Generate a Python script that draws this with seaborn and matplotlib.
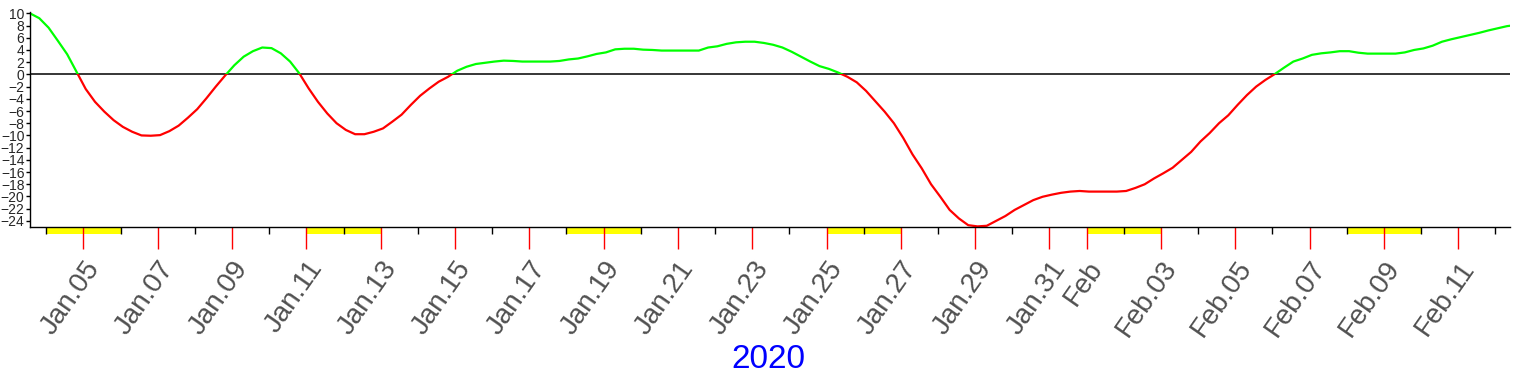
import matplotlib
matplotlib.use("Agg")
import matplotlib.pyplot as plt
import matplotlib.dates as mdates
import matplotlib.transforms as mtransforms
from matplotlib.patches import Rectangle
from matplotlib.ticker import FuncFormatter
import pandas as pd
import seaborn as sns

# series: one reading every 6 hours, starting Jan 03 13:30
start = "2020-01-03 13:30"
step = "6h"
values = [10.0, 9.2, 7.65, 5.5, 3.3, 0.45, -2.4, -4.5, -6.1, -7.5,
          -8.6, -9.4, -10.0, -10.05, -9.95, -9.3, -8.4, -7.1, -5.7, -3.9,
          -2.0, -0.2, 1.5, 2.9, 3.8, 4.4, 4.3, 3.45, 2.1, 0.15,
          -2.3, -4.5, -6.4, -8.0, -9.1, -9.8, -9.8, -9.4, -8.85, -7.75,
          -6.6, -5.0, -3.5, -2.3, -1.2, -0.4, 0.6, 1.25, 1.7, 1.9,
          2.1, 2.25, 2.2, 2.1, 2.1, 2.1, 2.1, 2.2, 2.45, 2.6,
          2.95, 3.35, 3.6, 4.1, 4.2, 4.2, 4.05, 4.0, 3.9, 3.9,
          3.9, 3.9, 3.9, 4.4, 4.6, 5.0, 5.25, 5.35, 5.35, 5.15,
          4.85, 4.4, 3.7, 2.9, 2.1, 1.35, 0.9, 0.3, -0.4, -1.3,
          -2.7, -4.4, -6.1, -8.0, -10.4, -13.1, -15.4, -18.0, -20.05, -22.2,
          -23.6, -24.7, -24.9, -24.8, -24.0, -23.2, -22.2, -21.4, -20.6, -20.05,
          -19.7, -19.4, -19.2, -19.1, -19.2, -19.2, -19.2, -19.2, -19.1, -18.6,
          -18.0, -17.05, -16.2, -15.3, -14.0, -12.7, -11.0, -9.6, -8.0, -6.7,
          -5.0, -3.4, -2.0, -0.9, 0.05, 1.1, 2.1, 2.6, 3.2, 3.45,
          3.6, 3.8, 3.8, 3.55, 3.4, 3.4, 3.4, 3.4, 3.6, 4.0,
          4.25, 4.7, 5.35, 5.75, 6.1, 6.45, 6.8, 7.2, 7.55, 7.9, 8.1]
x_end = "2020-02-12 09:15"
y_ticks = list(range(-24, 11, 2))
year_label = "2020"

dates = pd.date_range(start, periods=len(values), freq=step)
df = pd.DataFrame({"date": dates, "value": values})

sns.set_theme(style="ticks")
plt.rcParams["font.family"] = ["Liberation Sans", "DejaVu Sans"]

fig = plt.figure(figsize=(15.16, 3.74), dpi=100)
ax = fig.add_axes([30 / 1516, 1 - 227 / 374, (1509.7 - 30) / 1516, 215.5 / 374])

# same line twice, green clipped above zero and red below
blend = mtransforms.blended_transform_factory(ax.transAxes, ax.transData)
sns.lineplot(data=df, x="date", y="value", color="#00ff00", lw=1.6, ax=ax)
up = Rectangle((0, 0), 1, 100, transform=blend)
ax.lines[-1].set_clip_path(up)
sns.lineplot(data=df, x="date", y="value", color="#ff0000", lw=1.6, ax=ax)
down = Rectangle((0, -100), 1, 100, transform=blend)
ax.lines[-1].set_clip_path(down)

ax.axhline(0, color="black", lw=1.1, zorder=1)

ax.set_xlim(dates[0], pd.Timestamp(x_end))
ax.set_ylim(-25.0, 10.3)

# weekend markers under the axis
day = dates[0].normalize()
while day < pd.Timestamp(x_end):
    if day.weekday() == 5:
        ax.axvspan(day, day + pd.Timedelta(days=2), ymin=-7 / 215.5, ymax=0,
                   color="#ffff00", clip_on=False, zorder=0, lw=0)
    day += pd.Timedelta(days=1)

ax.xaxis.set_major_locator(mdates.DayLocator(bymonthday=range(1, 32, 2)))
ax.xaxis.set_minor_locator(mdates.DayLocator(bymonthday=range(2, 31, 2)))


def fmt(x, pos):
    d = mdates.num2date(x)
    if d.day == 1:
        return d.strftime("%b")
    return d.strftime("%b.%d")


ax.xaxis.set_major_formatter(FuncFormatter(fmt))
ax.tick_params(axis="x", which="major", color="red", length=16, width=1,
               labelsize=20, labelcolor="#505050", pad=4)
ax.tick_params(axis="x", which="minor", color="black", length=5, width=1)
for lab in ax.get_xticklabels():
    lab.set_rotation(55)
    lab.set_ha("right")
    lab.set_va("center")
    lab.set_rotation_mode("anchor")
    lab.set_transform(lab.get_transform() + mtransforms.ScaledTranslation(11 / 100, -9 / 100, fig.dpi_scale_trans))

ax.set_yticks(y_ticks)
ax.tick_params(axis="y", length=3, width=1, color="black", labelsize=10, pad=1)

for side in ["top", "right"]:
    ax.spines[side].set_visible(False)
for side in ["left", "bottom"]:
    ax.spines[side].set_color("black")
    ax.spines[side].set_linewidth(1)
ax.set_xlabel("")
ax.set_ylabel("")

fig.text(768 / 1516, 1 - 359 / 374, year_label, color="#0000ff", fontsize=24,
         ha="center", va="center")

fig.savefig("out.png", dpi=100)
